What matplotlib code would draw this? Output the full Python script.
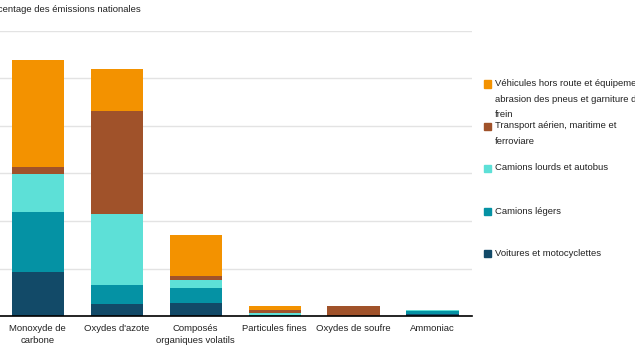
import matplotlib
matplotlib.use("Agg")
import matplotlib.pyplot as plt
import numpy as np

plt.rcParams['font.family'] = ['Liberation Sans', 'DejaVu Sans']

categories = ["Monoxyde de\ncarbone", "Oxydes d'azote", "Composés\norganiques volatils",
              "Particules fines", "Oxydes de soufre", "Ammoniac"]
series_names = ["Voitures et motocyclettes", "Camions légers", "Camions lourds et autobus",
                "Transport aérien, maritime et\nferroviare",
                "Véhicules hors route et équipement,\nabrasion des pneus et garniture de\nfrein"]
voitures = [9.2, 2.5, 2.7, 0.1, 0.0, 0.5]
camions_legers = [12.7, 4.0, 3.2, 0.1, 0.0, 0.5]
camions_lourds = [8.0, 15.0, 1.6, 0.5, 0.0, 0.2]
transport = [1.4, 21.6, 1.0, 0.5, 2.1, 0.0]
hors_route = [22.6, 8.8, 8.5, 0.8, 0.0, 0.1]
colors = ["#124a68", "#0592a4", "#5de0d7", "#a0522a", "#f39200"]
yticks = [0, 10, 20, 30, 40, 50, 60]

fig = plt.figure(figsize=(6.35, 3.57), dpi=100)
W, H = 635, 357
ax = fig.add_axes([-1.8 / W, 1 - 316 / H, 473.8 / W, (316 - 31) / H])

x = np.arange(len(categories))
bottom = np.zeros(len(categories))
for vals, col, name in zip([voitures, camions_legers, camions_lourds, transport, hors_route],
                           colors, series_names):
    ax.bar(x, vals, 0.66, bottom=bottom, color=col, label=name, zorder=3)
    bottom += np.array(vals)

ax.set_xlim(-0.5, 5.5)
ax.set_ylim(0, 60)
ax.set_yticks(yticks)
ax.yaxis.grid(True, color="#e3e3e3", linewidth=1.0, zorder=0)
ax.set_axisbelow(True)
for s in ["top", "right", "left"]:
    ax.spines[s].set_visible(False)
ax.spines["bottom"].set_color("black")
ax.spines["bottom"].set_linewidth(1.2)
ax.spines["bottom"].set_zorder(5)
ax.tick_params(axis="y", left=False, labelleft=False)
ax.tick_params(axis="x", bottom=False, pad=2.5)
ax.set_xticks(x)
ax.set_xticklabels(categories, fontsize=6.8, color="#222222", linespacing=1.45)

fig.text(-22 / W, 1 - 9 / H, "Pourcentage des émissions nationales", fontsize=6.8,
         color="#222222", va="center", ha="left")

# legend (drawn manually, clipped at right edge like the reference)
leg_y = [253, 211, 168, 126, 84]
for yy, col, name in zip(leg_y, colors, series_names):
    fig.patches.append(plt.Rectangle(((484) / W, 1 - (yy + 3.5) / H), 7 / W, 7 / H,
                                     transform=fig.transFigure, color=col, figure=fig))
    fig.text(495 / W, 1 - (yy - 4.5) / H, name, fontsize=6.8, color="#222222",
             va="top", ha="left", linespacing=1.9)

fig.savefig("out.png", dpi=100)
